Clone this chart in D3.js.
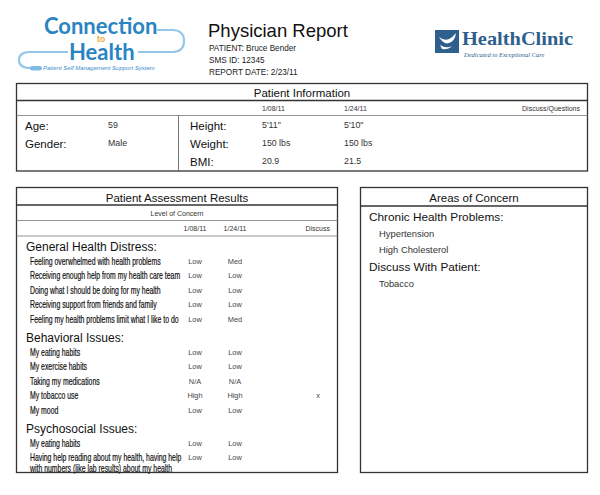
<!DOCTYPE html>
<html>
<head>
<meta charset="utf-8">
<script src="https://cdn.jsdelivr.net/npm/d3@7"></script>
<style>
  body { margin: 0; background: #fff; }
  text { font-family: "Liberation Sans", Arial, sans-serif; }
</style>
</head>
<body>
<div class="chart"></div>
<script>
// report values
var patientName = "Bruce Bender";
var smsId = "12345";
var reportDate = "2/23/11";

var visitDates = ["1/08/11", "1/24/11"];
var demoLabels = ["Age:", "Gender:"];
var demoValues = ["59", "Male"];
var vitalLabels = ["Height:", "Weight:", "BMI:"];
var vitalsVisit1 = ["5'11\"", "150 lbs", "20.9"];
var vitalsVisit2 = ["5'10\"", "150 lbs", "21.5"];

var sectionNames = ["General Health Distress:", "Behavioral Issues:", "Psychosocial Issues:"];
var generalItems = ["Feeling overwhelmed with health problems", "Receiving enough help from my health care team",
  "Doing what I should be doing for my health", "Receiving support from friends and family",
  "Feeling my health problems limit what I like to do"];
var generalVisit1 = ["Low", "Low", "Low", "Low", "Low"];
var generalVisit2 = ["Med", "Low", "Low", "Low", "Med"];
var generalDiscuss = ["", "", "", "", ""];
var behavioralItems = ["My eating habits", "My exercise habits", "Taking my medications", "My tobacco use", "My mood"];
var behavioralVisit1 = ["Low", "Low", "N/A", "High", "Low"];
var behavioralVisit2 = ["Low", "Low", "N/A", "High", "Low"];
var behavioralDiscuss = ["", "", "", "x", ""];
var psychosocialItems = ["My eating habits",
  "Having help reading about my health, having help|with numbers (like lab results) about my health"];
var psychosocialVisit1 = ["Low", "Low"];
var psychosocialVisit2 = ["Low", "Low"];
var psychosocialDiscuss = ["", ""];

var chronicProblems = ["Hypertension", "High Cholesterol"];
var discussTopics = ["Tobacco"];

var svgWidth = 600;
var svgHeight = 495;

var svg = d3.select(".chart")
  .append("svg")
  .attr("width", svgWidth)
  .attr("height", svgHeight);

// ---------- logos ----------
var logo = svg.append("g");
logo.append("path")
  .attr("d", "M157,30 H172 Q184,30 184,41 Q184,52 172,52 H138 M68,52 H30 Q19,52 19,60 Q19,68 30,68 H41")
  .attr("fill", "none").attr("stroke", "#93c8ea").attr("stroke-width", 2.2);
logo.append("rect").attr("x", 30).attr("y", 66).attr("width", 12).attr("height", 4.5).attr("rx", 2.2)
  .attr("fill", "#7fbbe4");
logo.append("text").attr("x", 44).attr("y", 34).text("Connection")
  .style("font-family", "Lato, 'Open Sans', sans-serif").attr("font-weight", 700)
  .attr("font-size", 22).attr("fill", "#2b84c2");
logo.append("text").attr("x", 101).attr("y", 42).attr("text-anchor", "middle").text("to")
  .style("font-family", "Lato, sans-serif").attr("font-weight", 700)
  .attr("font-size", 9).attr("fill", "#f0a83a");
logo.append("text").attr("x", 69).attr("y", 60).text("Health")
  .style("font-family", "Lato, 'Open Sans', sans-serif").attr("font-weight", 700)
  .attr("font-size", 22).attr("fill", "#2b84c2");
logo.append("text").attr("x", 43).attr("y", 70.2).text("Patient Self Management Support System")
  .attr("font-size", 6).attr("fill", "#3a8ccb").style("font-style", "italic");

var clinic = svg.append("g");
clinic.append("rect").attr("x", 435).attr("y", 30).attr("width", 24).attr("height", 23).attr("fill", "#2f5f8c");
clinic.append("path")
  .attr("d", "M439,37 Q444,41 449,39 Q453,37 456,33 Q455,41 449,43 Q444,45 439,37 Z M440,45 Q446,49 452,46 Q448,50 442,49 Z")
  .attr("fill", "#fff");
clinic.append("text").attr("x", 462).attr("y", 45).text("HealthClinic")
  .style("font-family", "'Liberation Serif', 'DejaVu Serif', serif").attr("font-weight", 700)
  .attr("font-size", 19.5).attr("textLength", 111).attr("lengthAdjust", "spacingAndGlyphs")
  .attr("fill", "#2f5f8c");
clinic.append("text").attr("x", 464).attr("y", 56.5).text("Dedicated to Exceptional Care")
  .style("font-family", "'Liberation Serif', serif").style("font-style", "italic")
  .attr("font-size", 6.5).attr("fill", "#2f5f8c");

// ---------- title block ----------
svg.append("text").attr("x", 208).attr("y", 37).text("Physician Report")
  .attr("font-size", 18.5).attr("fill", "#111");
svg.selectAll(".meta")
  .data(["PATIENT: " + patientName, "SMS ID: " + smsId, "REPORT DATE: " + reportDate])
  .enter().append("text")
  .attr("class", "meta")
  .attr("x", 209)
  .attr("y", function(d, i) { return 51 + i * 12.2; })
  .attr("font-size", 8.2).attr("fill", "#222")
  .text(function(d) { return d; });

// ---------- helper for boxes ----------
function box(x, y, w, h) {
  svg.append("rect").attr("x", x).attr("y", y).attr("width", w).attr("height", h)
    .attr("fill", "none").attr("stroke", "#333").attr("stroke-width", 1.3);
}
function hline(x1, x2, y, sw, col) {
  svg.append("line").attr("x1", x1).attr("x2", x2).attr("y1", y).attr("y2", y)
    .attr("stroke", col || "#555").attr("stroke-width", sw || 0.8);
}

// ---------- patient information ----------
box(16.5, 83.5, 571, 87.5);
hline(16.5, 587.5, 100.5, 1.3, "#333");
hline(16.5, 587.5, 115.5, 0.8, "#777");
svg.append("line").attr("x1", 178.5).attr("x2", 178.5).attr("y1", 115.5).attr("y2", 171)
  .attr("stroke", "#555").attr("stroke-width", 0.8);
svg.append("text").attr("x", 302).attr("y", 96.5).attr("text-anchor", "middle")
  .attr("font-size", 11.5).attr("fill", "#111").text("Patient Information");

var infoCol = d3.scaleOrdinal().domain(visitDates).range([262, 344]);
svg.selectAll(".infoDate").data(visitDates).enter().append("text")
  .attr("class", "infoDate")
  .attr("x", function(d) { return infoCol(d); }).attr("y", 110.5)
  .attr("font-size", 7).attr("fill", "#333").text(function(d) { return d; });
svg.append("text").attr("x", 580).attr("y", 110.5).attr("text-anchor", "end")
  .attr("font-size", 7).attr("fill", "#333").text("Discuss/Questions");

var infoRow = d3.scaleBand().domain([0, 1, 2]).range([117, 171]);
svg.selectAll(".demoLabel").data(demoLabels).enter().append("text")
  .attr("x", 25).attr("y", function(d, i) { return infoRow(i) + infoRow.bandwidth() / 2; })
  .attr("dy", "0.35em").attr("font-size", 11.5).attr("fill", "#111").text(function(d) { return d; });
svg.selectAll(".demoValue").data(demoValues).enter().append("text")
  .attr("x", 108).attr("y", function(d, i) { return infoRow(i) + infoRow.bandwidth() / 2 - 1; })
  .attr("dy", "0.35em").attr("font-size", 8.8).attr("fill", "#333").text(function(d) { return d; });
svg.selectAll(".vitalLabel").data(vitalLabels).enter().append("text")
  .attr("x", 190).attr("y", function(d, i) { return infoRow(i) + infoRow.bandwidth() / 2; })
  .attr("dy", "0.35em").attr("font-size", 11.5).attr("fill", "#111").text(function(d) { return d; });
[vitalsVisit1, vitalsVisit2].forEach(function(vals, k) {
  svg.selectAll(".vital" + k).data(vals).enter().append("text")
    .attr("x", infoCol(visitDates[k]))
    .attr("y", function(d, i) { return infoRow(i) + infoRow.bandwidth() / 2 - 1; })
    .attr("dy", "0.35em").attr("font-size", 8.8).attr("fill", "#333").text(function(d) { return d; });
});

// ---------- patient assessment results ----------
box(16.5, 187.5, 321, 285);
hline(16.5, 337.5, 205, 1.6, "#333");
hline(16.5, 337.5, 220.5, 0.8, "#777");
hline(16.5, 337.5, 236, 0.8, "#777");
svg.append("text").attr("x", 177).attr("y", 201.5).attr("text-anchor", "middle")
  .attr("font-size", 11.5).attr("fill", "#111").text("Patient Assessment Results");
svg.append("text").attr("x", 177).attr("y", 216).attr("text-anchor", "middle")
  .attr("font-size", 7).attr("fill", "#333").text("Level of Concern");

var colNames = visitDates.concat(["Discuss"]);
var levelCol = d3.scaleOrdinal().domain(colNames).range([195, 235, 318]);
svg.selectAll(".colHead").data(colNames).enter().append("text")
  .attr("x", function(d, i) { return i < 2 ? levelCol(d) : 330; })
  .attr("y", 231)
  .attr("text-anchor", function(d, i) { return i < 2 ? "middle" : "end"; })
  .attr("font-size", 7).attr("fill", "#333").text(function(d) { return d; });

// build rows: section headers followed by items
var sectionItems = [generalItems, behavioralItems, psychosocialItems];
var sectionV1 = [generalVisit1, behavioralVisit1, psychosocialVisit1];
var sectionV2 = [generalVisit2, behavioralVisit2, psychosocialVisit2];
var sectionDisc = [generalDiscuss, behavioralDiscuss, psychosocialDiscuss];
var rows = [];
var pos = 0;
sectionNames.forEach(function(name, s) {
  if (s > 0) pos += 19;
  rows.push({ type: "section", label: name, pos: pos });
  pos += 14;
  sectionItems[s].forEach(function(item, i) {
    if (i > 0) pos += 14.5;
    rows.push({ type: "item", label: item, v1: sectionV1[s][i], v2: sectionV2[s][i], disc: sectionDisc[s][i], pos: pos });
  });
});
var rowY = d3.scaleLinear().domain([0, 1]).range([247, 248]);

svg.selectAll(".section").data(rows.filter(function(r) { return r.type === "section"; }))
  .enter().append("text")
  .attr("x", 26).attr("y", function(d) { return rowY(d.pos); }).attr("dy", "0.35em")
  .attr("font-size", 12).attr("fill", "#111").text(function(d) { return d.label; });

var items = svg.selectAll(".item").data(rows.filter(function(r) { return r.type === "item"; }))
  .enter().append("g").attr("class", "item")
  .attr("transform", function(d) { return "translate(0," + rowY(d.pos) + ")"; });
// condensed look for the question text: squeeze horizontally
items.append("text")
  .attr("transform", "translate(30,0) scale(0.69,1)")
  .attr("font-size", 10).attr("fill", "#111")
  .attr("stroke", "#111").attr("stroke-width", 0.2)
  .selectAll("tspan").data(function(d) { return d.label.split("|"); })
  .enter().append("tspan")
  .attr("x", 0).attr("dy", function(d, i) { return i === 0 ? "0.35em" : "1.1em"; })
  .text(function(d) { return d; });
items.append("text").attr("x", levelCol(visitDates[0])).attr("dy", "0.35em").attr("text-anchor", "middle")
  .attr("font-size", 7.4).attr("fill", "#444").text(function(d) { return d.v1; });
items.append("text").attr("x", levelCol(visitDates[1])).attr("dy", "0.35em").attr("text-anchor", "middle")
  .attr("font-size", 7.4).attr("fill", "#444").text(function(d) { return d.v2; });
items.append("text").attr("x", levelCol("Discuss")).attr("dy", "0.35em").attr("text-anchor", "middle")
  .attr("font-size", 7.4).attr("fill", "#444").text(function(d) { return d.disc; });

// ---------- areas of concern ----------
box(360.5, 187.5, 227, 285);
hline(360.5, 587.5, 206, 1.3, "#333");
svg.append("text").attr("x", 474).attr("y", 201.5).attr("text-anchor", "middle")
  .attr("font-size", 11.5).attr("fill", "#111").text("Areas of Concern");

var concernRows = [{ label: "Chronic Health Problems:", head: true }]
  .concat(chronicProblems.map(function(p) { return { label: p, head: false }; }))
  .concat([{ label: "Discuss With Patient:", head: true }])
  .concat(discussTopics.map(function(p) { return { label: p, head: false }; }));
var concernY = d3.scaleLinear().domain([0, 1]).range([216.5, 233.3]);
svg.selectAll(".concern").data(concernRows).enter().append("text")
  .attr("x", function(d) { return d.head ? 369 : 379; })
  .attr("y", function(d, i) { return concernY(i); }).attr("dy", "0.35em")
  .attr("font-size", function(d) { return d.head ? 11.8 : 9.4; })
  .attr("fill", function(d) { return d.head ? "#111" : "#333"; })
  .text(function(d) { return d.label; });
</script>
</body>
</html>
